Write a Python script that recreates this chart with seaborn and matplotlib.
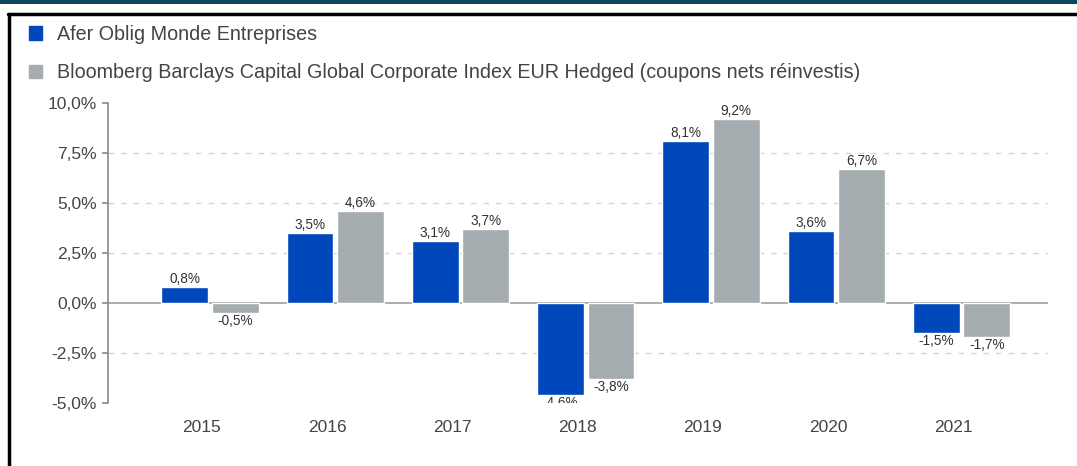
import matplotlib
matplotlib.use("Agg")
from matplotlib import pyplot as plt
from matplotlib.patches import Patch, Rectangle
from matplotlib.lines import Line2D
from matplotlib.transforms import ScaledTranslation
import numpy as np
import pandas as pd
import seaborn as sns

years = ["2015", "2016", "2017", "2018", "2019", "2020", "2021"]
fund_name = "Afer Oblig Monde Entreprises"
bench_name = "Bloomberg Barclays Capital Global Corporate Index EUR Hedged (coupons nets réinvestis)"
fund_values = [0.8, 3.5, 3.1, -4.6, 8.1, 3.6, -1.5]
bench_values = [-0.5, 4.6, 3.7, -3.8, 9.2, 6.7, -1.7]
y_ticks = [-5.0, -2.5, 0.0, 2.5, 5.0, 7.5, 10.0]

blue = "#0047BB"
grey = "#A5ACAF"
text_col = "#444444"

df = pd.DataFrame({
	"year": years * 2,
	"value": fund_values + bench_values,
	"serie": [fund_name] * len(years) + [bench_name] * len(years),
})

sns.set_style("white")
plt.rcParams['font.family'] = ['Liberation Sans', 'DejaVu Sans']

fig = plt.figure(figsize=(10.77, 4.66), dpi=100)
ax = fig.add_axes([0.1003, 0.1352, 0.973 - 0.1003, 0.779 - 0.1352])

sns.barplot(data=df, x="year", y="value", hue="serie", order=years,
			hue_order=[fund_name, bench_name], palette=[blue, grey],
			width=0.806, gap=0.07, ax=ax, legend=False, saturation=1)

# value labels, french decimal comma
def fr(v):
	return f"{v:.1f}%".replace(".", ",")

for cont in ax.containers:
	ax.bar_label(cont, fmt=fr, padding=1, fontsize=9.8, color="#333333", clip_on=True)

ax.set_ylim(-5, 10)
ax.set_xlim(-0.814, 6.69)
ax.set_yticks(y_ticks)
ax.set_yticklabels([fr(t) for t in y_ticks])

# grid lines (dashed) and zero line
for t in y_ticks[1:-1]:
	if t == 0:
		ax.axhline(t, color="#a0a0a0", lw=1.2, zorder=0.5)
	else:
		ax.axhline(t, color="#d4d4d4", lw=1, ls=(0, (4, 5)), zorder=0)

for s in ["top", "right", "bottom"]:
	ax.spines[s].set_visible(False)
ax.spines["left"].set_color("#8a8a8a")
ax.spines["left"].set_linewidth(1.2)

ax.tick_params(axis="y", length=4, width=1.2, color="#8a8a8a", labelsize=12.5,
			   labelcolor=text_col, pad=4, left=True)
ax.tick_params(axis="x", length=0, labelsize=12.5, labelcolor=text_col, pad=12)
# year labels sit a little left of the bar groups in the original
shift = ScaledTranslation(-8 / 100, 0, fig.dpi_scale_trans)
for lab in ax.get_xticklabels():
	lab.set_transform(lab.get_transform() + shift)
ax.set_xlabel("")
ax.set_ylabel("")

# legend above the plot
handles = [Patch(facecolor=blue, edgecolor=blue), Patch(facecolor=grey, edgecolor=grey)]
fig.legend(handles, [fund_name, bench_name], loc="upper left",
		   bbox_to_anchor=(0.0105, 0.985), frameon=False, fontsize=14.2,
		   handlelength=0.68, handleheight=0.68, handletextpad=0.72,
		   labelspacing=1.0, labelcolor=text_col)

# frame decorations: teal top band, black top line and left border
fig.patches.append(Rectangle((0, 1 - 4 / 466), 1, 4 / 466, transform=fig.transFigure,
							 facecolor="#0B4A5E", edgecolor="none"))
fig.lines.append(Line2D([8 / 1077, 1], [1 - 14 / 466, 1 - 14 / 466],
						transform=fig.transFigure, color="black", lw=2.5))
fig.lines.append(Line2D([9 / 1077, 9 / 1077], [0, 1 - 14 / 466],
						transform=fig.transFigure, color="black", lw=2.5))

fig.savefig("out.png", dpi=100)
